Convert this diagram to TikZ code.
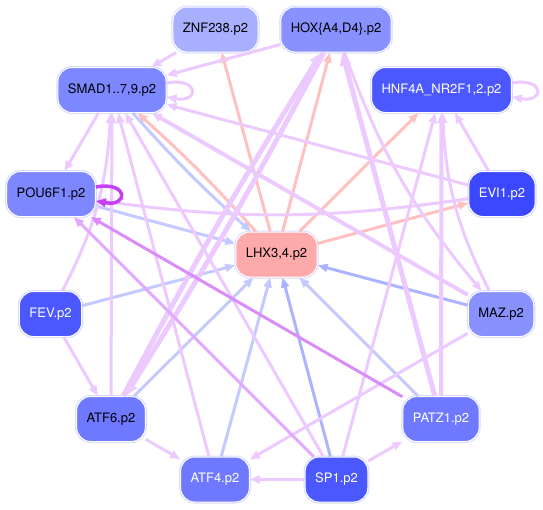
\documentclass[tikz,border=0pt]{standalone}
\usepackage{fontspec}
\setmainfont{TeX Gyre Heros}
\usetikzlibrary{arrows.meta}
\usetikzlibrary{positioning}

% edge colours
\definecolor{edgelil}{RGB}{236,202,255}
\definecolor{edgepink}{RGB}{255,192,192}
\definecolor{edgeblue}{RGB}{196,202,255}
\definecolor{edgeblue2}{RGB}{172,180,255}
\definecolor{edgevio}{RGB}{218,140,250}
\definecolor{edgevio2}{RGB}{226,170,255}
\definecolor{edgeviodk}{RGB}{196,64,240}
% node colours
\definecolor{rim}{RGB}{214,218,255}
\definecolor{nodeb}{RGB}{169,175,255}
\definecolor{nodec}{RGB}{137,145,255}
\definecolor{noded}{RGB}{125,135,255}
\definecolor{nodee}{RGB}{75,87,255}
\definecolor{nodef}{RGB}{59,72,255}
\definecolor{nodeg}{RGB}{110,121,255}
\definecolor{nodel}{RGB}{255,170,170}

\begin{document}
\begin{tikzpicture}[x=1pt, y=-1pt,
    every node/.style={rectangle, rounded corners=14pt, minimum height=45pt, inner xsep=10pt,
      font=\fontsize{13}{15}\selectfont, draw=white, line width=1pt, preaction={draw=rim, line width=3pt}},
    lil/.style={draw=edgelil, line width=3pt, -{Triangle[length=10pt,width=8pt]}},
    fat/.style={lil, line width=5pt, -{Triangle[length=13pt,width=11pt]}},
    pnk/.style={lil, draw=edgepink},
    blu/.style={lil, draw=edgeblue},
    bludk/.style={lil, draw=edgeblue2},
    vio/.style={lil, draw=edgevio},
    viol/.style={lil, draw=edgevio2}]
  \useasboundingbox (0,0) rectangle (543,509);

  % the nodes
  \node[fill=nodeb] (znf) at (215.5,29.5) {ZNF238.p2};
  \node[fill=nodec] (hox) at (336,29.5) {HOX\{A4,D4\}.p2};
  \node[fill=noded] (smad) at (112,90) {SMAD1..7,9.p2};
  \node[fill=nodee, text=white] (hnf) at (441.5,90) {HNF4A\_NR2F1,2.p2};
  \node[fill=noded] (pou) at (51,194) {POU6F1.p2};
  \node[fill=nodef, text=white] (evi) at (502,194) {EVI1.p2};
  \node[fill=nodel] (lhx) at (276.5,254.5) {LHX3,4.p2};
  \node[fill=nodee, text=white] (fev) at (50.5,314) {FEV.p2};
  \node[fill=nodec] (maz) at (501,314) {MAZ.p2};
  \node[fill=nodeg] (atf6) at (111,419) {ATF6.p2};
  \node[fill=nodeg, text=white] (patz) at (441,419) {PATZ1.p2};
  \node[fill=nodeg, text=white] (atf4) at (215,479.5) {ATF4.p2};
  \node[fill=nodee, text=white] (sp1) at (336.5,479.5) {SP1.p2};

  % out of LHX3,4
  \draw[pnk] (lhx) -- (znf);
  \draw[pnk] (lhx) -- (hox);
  \draw[pnk] (lhx) -- (hnf);
  \draw[pnk] (lhx) -- (evi);
  \draw[pnk] (lhx) to[bend right=3] (smad);

  % into LHX3,4
  \draw[blu] (smad) to[bend right=3] (lhx);
  \draw[blu] (pou) -- (lhx);
  \draw[blu] (fev) -- (lhx);
  \draw[blu] (atf6) -- (lhx);
  \draw[blu] (atf4) -- (lhx);
  \draw[bludk] (sp1) -- (lhx);
  \draw[blu] (patz) -- (lhx);
  \draw[bludk] (maz) -- (lhx);

  % the others
  \draw[lil] (znf) -- (smad);
  \draw[lil] (hox) -- (smad);
  \draw[lil] ([yshift=7pt]smad.east) .. controls +(33,-6) and +(33,6) .. ([yshift=-7pt]smad.east);
  \draw[lil] ([yshift=7pt]hnf.east) .. controls +(33,-6) and +(33,6) .. ([yshift=-7pt]hnf.east);
  \draw[lil] (smad) -- (pou);
  \draw[lil] (evi) -- (hnf);
  \draw[lil] (evi) -- (smad);
  \draw[lil] (evi) to[bend left=8] (pou);
  \draw[lil] (fev) -- (atf6);
  \draw[lil] (fev) to[bend right=12] (smad);
  \draw[lil] (atf6) -- (atf4);
  \draw[lil] (sp1) -- (atf4);
  \draw[lil] (sp1) -- (patz);
  \draw[lil] (maz) -- (atf4);
  \draw[fat] (atf6) to[bend left=2] (hox);
  \draw[fat] (hox) to[bend left=2] (atf6);
  \draw[fat] (patz) -- (hox);
  \draw[lil, line width=4pt] (patz) -- (hnf);
  \draw[lil] (sp1) -- (hnf);
  \draw[lil] (maz) to[bend left=12] (hnf);
  \draw[lil] (hox) to[bend right=10] (maz);
  \draw[lil, line width=4pt] (maz) -- (smad);
  \draw[lil] (atf6) -- (smad);
  \draw[lil] (atf4) -- (smad);
  \draw[lil] (sp1) -- (smad);

  % into POU6F1
  \draw[vio] (patz) -- (pou);
  \draw[viol] (sp1) -- (pou);
  \draw[lil, draw=edgeviodk, line width=3.5pt] ([yshift=7pt]pou.east) .. controls +(33,-6) and +(33,6) .. ([yshift=-7pt]pou.east);
\end{tikzpicture}
\end{document}
